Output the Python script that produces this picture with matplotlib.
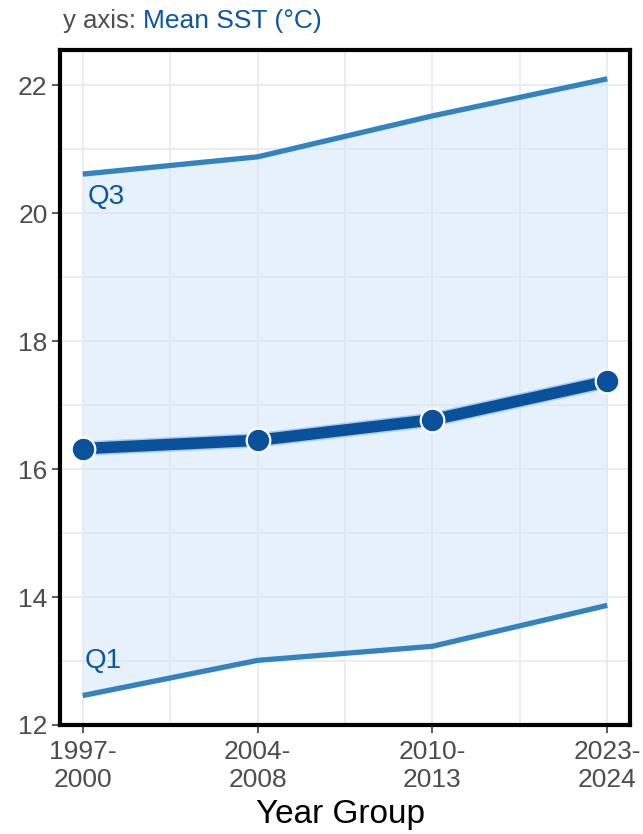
import matplotlib
matplotlib.use("Agg")
import matplotlib.pyplot as plt
import matplotlib.patheffects as pe
from matplotlib.ticker import MultipleLocator
import numpy as np

plt.rcParams['font.family'] = ['Liberation Sans', 'DejaVu Sans']

groups = ["1997-\n2000", "2004-\n2008", "2010-\n2013", "2023-\n2024"]
q1 = [12.46, 13.01, 13.23, 13.87]
median = [16.32, 16.45, 16.77, 17.37]
q3 = [20.61, 20.88, 21.52, 22.10]
y_ticks = [12, 14, 16, 18, 20, 22]

fig = plt.figure(figsize=(6.43, 8.34), dpi=100)
ax = fig.add_axes([60/643, 109/834, 570/643, 675/834])

x = np.arange(len(groups))

ax.set_xlim(-0.13, 3.13)
ax.set_ylim(12, 22.55)

# grid
ax.xaxis.set_minor_locator(MultipleLocator(0.5))
ax.yaxis.set_minor_locator(MultipleLocator(1))
ax.grid(True, which='both', color='#ebebeb', linewidth=1.3, zorder=0)
ax.set_axisbelow(True)

ax.fill_between(x, q1, q3, color='#d4e6f8', alpha=0.55, linewidth=0, zorder=1)
ax.plot(x, q3, color='#3383c0', linewidth=3.8, zorder=3, solid_capstyle='butt')
ax.plot(x, q1, color='#3383c0', linewidth=3.8, zorder=3, solid_capstyle='butt')
ax.plot(x, median, color='#0a519c', linewidth=8.3, zorder=4, solid_capstyle='butt',
        path_effects=[pe.Stroke(linewidth=10.5, foreground='#a9cbee'), pe.Normal()])
ax.plot(x, median, linestyle='none', marker='o', markersize=17,
        markerfacecolor='#0a519c', markeredgecolor='white', markeredgewidth=1.6, zorder=5)

ax.text(0.03, 20.25, "Q3", color='#0c56a0', fontsize=20, ha='left', va='center', zorder=6)
ax.text(0.01, 13.0, "Q1", color='#0c56a0', fontsize=20, ha='left', va='center', zorder=6)

ax.set_xticks(x)
ax.set_xticklabels(groups, linespacing=1.2)
ax.set_yticks(y_ticks)
ax.tick_params(axis='both', which='major', labelsize=19, labelcolor='#4d4d4d',
               color='#4d4d4d', length=6, width=1.3, pad=3)
ax.tick_params(axis='x', which='major', pad=5)
ax.tick_params(axis='both', which='minor', length=0)

for s in ax.spines.values():
    s.set_color('black')
    s.set_linewidth(3)

fig.text(341/643, 11/834, "Year Group", fontsize=24, color='black', ha='center', va='baseline')
t1 = fig.text(63/643, 1 - 28/834, "y axis: ", fontsize=18.5, color='#4d4d4d', ha='left', va='baseline')
fig.canvas.draw()
bb = t1.get_window_extent()
fig.text(bb.x1 / fig.bbox.width, 1 - 28/834, "Mean SST (°C)", fontsize=19, color='#0c56a0',
         ha='left', va='baseline')

fig.savefig("out.png", dpi=100)
